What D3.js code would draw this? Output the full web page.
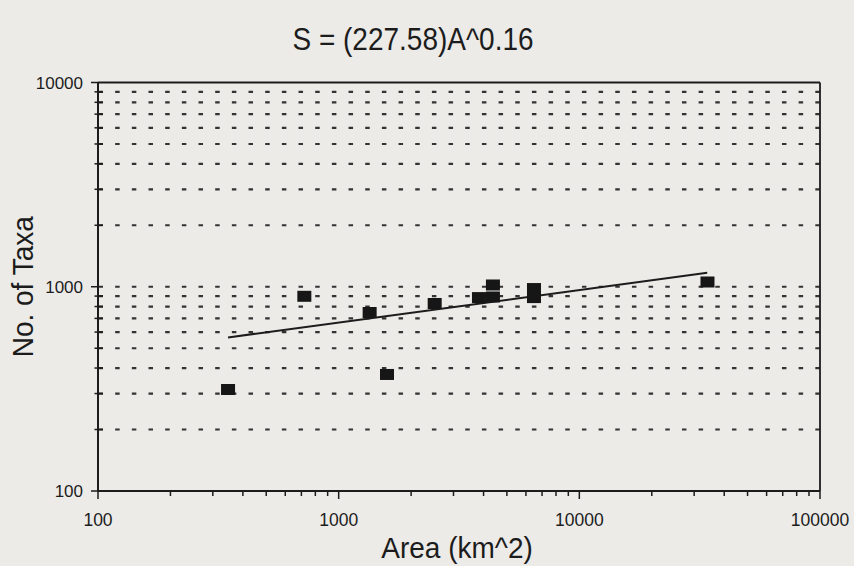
<!DOCTYPE html>
<html>
<head>
<meta charset="utf-8">
<script src="https://cdn.jsdelivr.net/npm/d3@7"></script>
<style>
  body { margin: 0; background: #ecebe8; }
  svg { display: block; font-family: "Liberation Sans", Arial, sans-serif; }
</style>
</head>
<body>
<div id="chart"></div>
<script>
// values
var areaValues = [347, 720, 1345, 1588, 2506, 3828, 4375, 4375, 6480, 6480, 34080];
var taxaValues = [314, 898, 748, 372, 828, 885, 891, 1020, 980, 885, 1055];

// fitted power line S = (227.58)A^0.16, end points as drawn
var fitArea = [347, 34000];
var fitTaxa = [565, 1170];

var xTickValues = [100, 1000, 10000, 100000];
var xTickLabels = ["100", "1000", "10000", "100000"];
var yTickValues = [100, 1000, 10000];
var yTickLabels = ["100", "1000", "10000"];

var titleText = "S = (227.58)A^0.16";
var xTitle = "Area (km^2)";
var yTitle = "No. of Taxa";

var width = 854, height = 566;
var margin = { top: 82.5, right: 34, bottom: 75, left: 98 };
var innerW = width - margin.left - margin.right;
var innerH = height - margin.top - margin.bottom;
var ink = "#1c1c1c";

var svg = d3.select("#chart")
    .append("svg")
    .attr("width", width)
    .attr("height", height);

var g = svg.append("g")
    .attr("transform", "translate(" + margin.left + "," + margin.top + ")");

var x = d3.scaleLog().domain([100, 100000]).range([0, innerW]);
var y = d3.scaleLog().domain([100, 10000]).range([innerH, 0]);

// minor values 200..900, 2000..9000 etc
function minorValues(scale) {
    var d = scale.domain(), out = [];
    for (var p = d[0]; p < d[1]; p *= 10) {
        for (var k = 2; k <= 9; k++) out.push(p * k);
    }
    return out;
}
var xMinor = minorValues(x);
var yMinor = minorValues(y);

// dashed horizontal grid
var gridVals = yMinor.concat([1000]);
g.append("g")
    .selectAll("line")
    .data(gridVals)
    .enter().append("line")
    .attr("x1", 0)
    .attr("x2", innerW)
    .attr("y1", function(d) { return y(d); })
    .attr("y2", function(d) { return y(d); })
    .attr("stroke", "#333")
    .attr("stroke-width", 2.2)
    .attr("stroke-dasharray", "4.5,12.17")
    .attr("stroke-dashoffset", -0.5);

// frame
g.append("line").attr("x1", 0).attr("x2", innerW).attr("y1", 0).attr("y2", 0)
    .attr("stroke", ink).attr("stroke-width", 1.8);
g.append("line").attr("x1", innerW).attr("x2", innerW).attr("y1", 0).attr("y2", innerH)
    .attr("stroke", ink).attr("stroke-width", 1.8);

// y axis: minor ticks cross the axis, major ticks stick out left
var yAxis = g.append("g");
yAxis.append("line").attr("x1", 0).attr("x2", 0).attr("y1", 0).attr("y2", innerH)
    .attr("stroke", ink).attr("stroke-width", 2);
yAxis.selectAll(".minor")
    .data(yMinor)
    .enter().append("line")
    .attr("x1", -3.5).attr("x2", 5)
    .attr("y1", function(d) { return y(d); })
    .attr("y2", function(d) { return y(d); })
    .attr("stroke", ink).attr("stroke-width", 1.5);
yAxis.selectAll(".major")
    .data(yTickValues)
    .enter().append("line")
    .attr("x1", -7).attr("x2", 0)
    .attr("y1", function(d) { return y(d); })
    .attr("y2", function(d) { return y(d); })
    .attr("stroke", ink).attr("stroke-width", 1.5);
yAxis.selectAll("text")
    .data(yTickValues)
    .enter().append("text")
    .attr("x", -15)
    .attr("y", function(d) { return y(d); })
    .attr("dy", "0.36em")
    .attr("text-anchor", "end")
    .attr("fill", ink)
    .style("font-size", "17px")
    .text(function(d, i) { return yTickLabels[i]; });

// x axis: ticks point down
var xAxis = g.append("g").attr("transform", "translate(0," + innerH + ")");
xAxis.append("line").attr("x1", 0).attr("x2", innerW).attr("y1", 0).attr("y2", 0)
    .attr("stroke", ink).attr("stroke-width", 2);
xAxis.selectAll(".minor")
    .data(xMinor)
    .enter().append("line")
    .attr("x1", function(d) { return x(d); })
    .attr("x2", function(d) { return x(d); })
    .attr("y1", 0).attr("y2", 5)
    .attr("stroke", ink).attr("stroke-width", 1.5);
xAxis.selectAll(".major")
    .data(xTickValues)
    .enter().append("line")
    .attr("x1", function(d) { return x(d); })
    .attr("x2", function(d) { return x(d); })
    .attr("y1", 0).attr("y2", 8)
    .attr("stroke", ink).attr("stroke-width", 1.5);
xAxis.selectAll("text")
    .data(xTickValues)
    .enter().append("text")
    .attr("x", function(d) { return x(d); })
    .attr("y", 35)
    .attr("text-anchor", "middle")
    .attr("fill", ink)
    .style("font-size", "17.5px")
    .text(function(d, i) { return xTickLabels[i]; });

// fit line
var fitData = fitArea.map(function(a, i) { return { area: a, taxa: fitTaxa[i] }; });
g.append("path")
    .datum(fitData)
    .attr("fill", "none")
    .attr("stroke", ink)
    .attr("stroke-width", 2)
    .attr("d", d3.line()
        .x(function(d) { return x(d.area); })
        .y(function(d) { return y(d.taxa); }));

// square markers
var points = areaValues.map(function(a, i) { return { area: a, taxa: taxaValues[i] }; });
g.selectAll(".pt")
    .data(points)
    .enter().append("rect")
    .attr("class", "pt")
    .attr("x", function(d) { return x(d.area) - 7; })
    .attr("y", function(d) { return y(d.taxa) - 5.5; })
    .attr("width", 14)
    .attr("height", 11)
    .attr("fill", "#161616");

// titles (the scan's lettering is a little taller than Liberation Sans)
svg.append("text")
    .attr("transform", "translate(413,50) scale(1,1.12)")
    .attr("text-anchor", "middle")
    .attr("fill", ink)
    .style("font-size", "28px")
    .text(titleText);

svg.append("text")
    .attr("transform", "translate(" + (margin.left + innerW / 2 - 2) + ",558) scale(1,1.08)")
    .attr("text-anchor", "middle")
    .attr("fill", ink)
    .style("font-size", "28px")
    .text(xTitle);

svg.append("text")
    .attr("transform", "translate(33," + (margin.top + y(1000)) + ") rotate(-90) scale(1,1.08)")
    .attr("text-anchor", "middle")
    .attr("fill", ink)
    .style("font-size", "28px")
    .text(yTitle);
</script>
</body>
</html>
